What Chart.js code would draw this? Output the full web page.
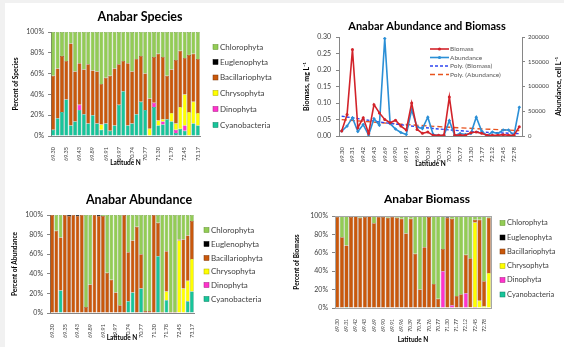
<!DOCTYPE html>
<html>
<head>
<meta charset="utf-8">
<script src="https://cdn.jsdelivr.net/npm/chart.js@4.4.1/dist/chart.umd.min.js"></script>
<style>
  html, body { margin: 0; padding: 0; background: #f1f1f1; }
  #wrap { position: relative; width: 564px; height: 347px; overflow: hidden; }
  #sheet { position: absolute; left: 5px; top: 3px; right: 0; bottom: 0; background: #fff; }
  canvas { position: absolute; }
</style>
</head>
<body>
<div id="wrap">
  <div id="sheet"></div>
  <canvas id="species" width="282" height="175" style="left:0;top:0"></canvas>
  <canvas id="mass" width="282" height="175" style="left:282px;top:0"></canvas>
  <canvas id="abund" width="282" height="172" style="left:0;top:175px"></canvas>
  <canvas id="biomass" width="282" height="172" style="left:282px;top:175px"></canvas>
</div>
<script>
// sampling stations, south to north
const latitude = ['69.30','69.30','69.31','69.35','69.42','69.42','69.43','69.43','69.69','69.89',
  '69.90','69.90','69.91','69.91','69.96','69.97','70.39','70.39','70.74','70.74',
  '70.76','70.77','70.77','70.77','71.30','71.30','71.77','71.78','72.12','72.12',
  '72.45','72.45','72.78','73.17'];

// stacking order, bottom to top
const groups = ['Cyanobacteria', 'Dinophyta', 'Chrysophyta', 'Bacillariophyta', 'Euglenophyta', 'Chlorophyta'];

// percent of species
const speciesCyano   = [6,17,23,35,10,14,25,21,12,20, 12,6,12,5,10,30,43,10,12,21, 33,25,0,28,10,11,16,14,3,7, 5,0,12,10];
const speciesDino    = [0,0,0,0,0,0,5,0,0,0, 0,0,0,0,0,0,0,0,0,0, 0,0,0,4,0,3,0,0,3,0, 5,0,0,0];
const speciesChryso  = [0,0,0,0,0,0,0,0,0,0, 0,5,0,0,0,0,0,0,0,0, 0,0,7,0,5,2,0,8,6,21, 30,23,21,12];
const speciesBacil   = [52,48,54,37,79,48,40,43,57,43, 50,39,44,53,55,39,29,60,50,53, 44,35,29,44,64,60,42,42,61,54, 35,55,46,52];
const speciesEugleno = [0,0,0,0,0,0,0,0,0,0, 0,0,0,0,0,0,0,0,0,0, 0,0,0,0,0,0,0,0,0,0, 0,0,0,0];
const speciesChloro  = [42,35,23,28,11,38,30,36,31,37, 38,50,44,42,35,31,28,30,38,26, 23,40,64,24,21,24,42,36,27,18, 25,22,21,26];

// percent of abundance
const abundCyano   = [0,0,23,0,0,0,0,0,0,0, 0,0,0,0,0,0,0,0,12,21, 0,25,0,0,0,58,0,13,0,0, 0,0,12,22];
const abundDino    = [0,0,0,0,0,0,0,0,0,0, 0,0,0,0,0,0,0,0,0,0, 0,0,0,0,0,0,0,0,0,0, 0,0,0,0];
const abundChryso  = [0,0,0,0,0,0,0,0,0,0, 0,0,0,0,0,0,0,0,0,0, 0,0,0,0,0,0,0,9,0,0, 74,25,21,33];
const abundBacil   = [100,84,54,100,99,100,99,100,6,29, 100,99,99,41,34,21,8,100,50,53, 88,35,2,2,100,34,1,41,1,1, 1,50,46,39];
const abundEugleno = [0,0,0,0,1,0,1,0,0,0, 0,1,0,0,0,0,0,0,0,0, 0,0,0,0,0,0,0,0,0,0, 0,0,0,0];
const abundChloro  = [0,16,23,0,0,0,0,0,94,71, 0,0,1,59,66,79,92,0,38,26, 12,40,98,98,0,8,99,37,99,99, 25,25,21,6];

// percent of biomass
const massCyano   = [0,0,1,0,0,0,0,0,0,0, 0,0,0,0,0,0,0,0,0,0, 0,0,1,0,0,0,0,0,0,0, 0,0,0,0];
const massDino    = [0,0,0,0,0,0,0,0,0,0, 0,0,0,0,0,0,0,0,0,0, 0,0,0,40,0,3,0,0,16,0, 1,0,0,0];
const massChryso  = [0,0,0,0,0,0,0,0,0,0, 0,0,0,0,0,0,0,0,0,0, 0,0,0,0,0,0,0,0,0,1, 92,8,2,38];
const massBacil   = [99,77,67,99,100,98,99,100,92,99, 99,98,99,98,97,81,97,59,20,66, 99,26,9,24,98,94,13,15,42,53, 3,88,27,60];
const massEugleno = [0,0,0,1,0,0,1,0,0,0, 1,0,0,0,0,0,0,0,0,0, 0,0,0,0,1,0,0,0,0,0, 0,0,0,0];
const massChloro  = [1,23,32,0,0,2,0,0,8,1, 0,2,1,2,3,19,3,41,80,34, 1,74,90,36,1,3,87,85,42,46, 4,4,71,2];

// biomass mg/L and abundance cell/L
const biomass   = [0.015,0.065,0.262,0.025,0.055,0.008,0.095,0.070,0.050,0.040, 0.048,0.030,0.018,0.100,0.020,0.008,0.012,0.002,0.002,0.003,
                   0.118,0.002,0.003,0.002,0.010,0.012,0.008,0.002,0.002,0.002, 0.004,0.002,0.002,0.028];
const abundance = [10000,20000,37000,9000,23000,2000,35000,22000,197000,25000, 14000,7000,3000,53000,18000,15000,38000,3000,1000,1000,
                   31000,1000,5000,3000,5000,38000,10000,1000,8000,5000, 12000,12000,1000,58000];

const trendAt        = [0, 11, 22, 33];
const trendBiomass   = [0.060, 0.034, 0.016, 0.007];
const trendAbundance = [33000, 24000, 16500, 11000];

const groupColors  = ['#17c59a', '#ff33cc', '#ffff00', '#c9580c', '#000000', '#93cc55'];
const groupBorders = ['#0e7e62', '#a0207f', '#a8a800', '#7e3406', '#000000', '#5e8f2c'];

Chart.defaults.font.family = 'Lato';
Chart.defaults.animation = false;

// titles, legends, plot frame and the right axis title, drawn at fixed spots
const decor = {
  id: 'decor',
  afterDraw(chart, args, o) {
    if (!o.title) return;
    const ctx = chart.ctx;
    const sets = chart.data.datasets;
    const area = chart.chartArea;
    ctx.save();
    if (o.frame) {
      ctx.strokeStyle = '#a6a6a6';
      ctx.lineWidth = 1;
      ctx.strokeRect(Math.round(area.left) + 0.5, Math.round(area.top) + 0.5,
        Math.round(area.right - area.left), Math.round(area.bottom - area.top));
    }
    ctx.textBaseline = 'middle';
    ctx.textAlign = 'center';
    ctx.fillStyle = '#000';
    ctx.font = 'bold ' + o.titleSize + 'px Lato';
    ctx.fillText(o.title, o.titleX, o.titleY);

    ctx.textAlign = 'left';
    ctx.font = o.legendSize + 'px Lato';
    o.order.forEach((k, j) => {
      const ds = sets[k];
      const y = o.legendY[j];
      if (o.kind === 'box') {
        ctx.fillStyle = ds.backgroundColor;
        ctx.fillRect(o.legendX, y - 2.5, 5, 5);
        ctx.strokeStyle = ds.borderColor;
        ctx.lineWidth = 0.5;
        ctx.strokeRect(o.legendX, y - 2.5, 5, 5);
      } else {
        ctx.strokeStyle = ds.borderColor;
        ctx.lineWidth = ds.borderWidth;
        ctx.setLineDash(ds.borderDash || []);
        ctx.beginPath();
        ctx.moveTo(o.legendX, y);
        ctx.lineTo(o.legendX + 19, y);
        ctx.stroke();
        ctx.setLineDash([]);
        if (ds.pointRadius) {
          ctx.fillStyle = ds.borderColor;
          ctx.beginPath();
          ctx.arc(o.legendX + 9.5, y, 1.6, 0, Math.PI * 2);
          ctx.fill();
        }
      }
      ctx.fillStyle = o.legendColor || '#404040';
      ctx.fillText(ds.label, o.textX, y);
    });

    if (o.sideTitle) {
      ctx.translate(o.sideX, o.sideY);
      ctx.rotate(-Math.PI / 2);
      ctx.textAlign = 'center';
      ctx.fillStyle = '#000';
      ctx.font = 'bold 7px Lato';
      ctx.fillText(o.sideTitle, 0, 0);
    }
    ctx.restore();
  }
};
Chart.register(decor);

function stackedChart(id, values, c) {
  return new Chart(document.getElementById(id), {
    type: 'bar',
    data: {
      labels: latitude,
      datasets: groups.map((g, k) => ({
        label: g,
        data: values[k],
        backgroundColor: groupColors[k],
        borderColor: groupBorders[k],
        borderWidth: 0.5,
        barPercentage: 1,
        categoryPercentage: 0.88
      }))
    },
    options: {
      responsive: false,
      layout: { padding: { top: c.top, right: c.w - c.right, left: 0, bottom: 0 } },
      plugins: {
        legend: { display: false },
        tooltip: { enabled: false },
        decor: {
          title: c.title, titleX: c.titleX, titleY: c.titleY, titleSize: c.titleSize, frame: c.frame,
          kind: 'box', order: [5, 4, 3, 2, 1, 0],
          legendX: c.legendX, textX: c.legendX + 7, legendY: c.legendY, legendSize: c.legendSize
        }
      },
      scales: {
        x: {
          stacked: true,
          grid: { display: false },
          border: { color: '#868686' },
          afterFit: s => { s.height = c.h - c.bottom; },
          ticks: {
            autoSkip: false, minRotation: 90, maxRotation: 90, padding: 3,
            font: { size: c.xSize }, color: '#404040',
            callback: (v, i) => i % c.every === 0 ? latitude[i] : ''
          },
          title: { display: true, text: 'Latitude N', color: '#000',
                   font: { size: 6.5, weight: 'bold' }, padding: { top: 0, bottom: c.xTitlePad } }
        },
        y: {
          stacked: true, min: 0, max: 100,
          afterFit: s => { s.width = c.left; },
          grid: { drawOnChartArea: false, tickLength: 3, color: '#868686' },
          border: { color: '#868686' },
          ticks: { stepSize: c.step, padding: 4, font: { size: 7 }, color: '#404040', callback: v => v + '%' },
          title: { display: true, text: c.yTitle, color: '#000',
                   font: { size: 6.5, weight: 'bold' }, padding: { top: c.yTitlePad, bottom: 0 } }
        }
      }
    }
  });
}

stackedChart('species',
  [speciesCyano, speciesDino, speciesChryso, speciesBacil, speciesEugleno, speciesChloro],
  { w: 282, h: 175, left: 51, top: 32, right: 200, bottom: 136, step: 10, every: 3, xSize: 5.5,
    title: 'Anabar Species', titleX: 140, titleY: 17, titleSize: 12.5,
    legendX: 213, legendY: [47, 62, 77.5, 93, 109, 125], legendSize: 8,
    yTitle: 'Percent of Species', yTitlePad: 12, xTitlePad: 8 });

stackedChart('abund',
  [abundCyano, abundDino, abundChryso, abundBacil, abundEugleno, abundChloro],
  { w: 282, h: 172, left: 50, top: 40, right: 194, bottom: 138, step: 10, every: 3, xSize: 5.5,
    title: 'Anabar Abundance', titleX: 139, titleY: 25, titleSize: 12.5,
    legendX: 204, legendY: [55, 69, 83, 96.5, 110, 124], legendSize: 8,
    yTitle: 'Percent of Abundance', yTitlePad: 11, xTitlePad: 5 });

stackedChart('biomass',
  [massCyano, massDino, massChryso, massBacil, massEugleno, massChloro],
  { w: 282, h: 172, left: 53, top: 41, right: 209, bottom: 133, step: 20, every: 2, xSize: 5,
    title: 'Anabar Biomass', titleX: 145, titleY: 24, titleSize: 12, frame: true,
    legendX: 218, legendY: [48, 62.5, 76.5, 91, 105, 119.5], legendSize: 7.5,
    yTitle: 'Percent of Biomass', yTitlePad: 11, xTitlePad: 3 });

// trend series with gaps between the read stations
const trendB = latitude.map(() => null);
const trendA = latitude.map(() => null);
trendAt.forEach((k, j) => { trendB[k] = trendBiomass[j]; trendA[k] = trendAbundance[j]; });

new Chart(document.getElementById('mass'), {
  type: 'line',
  data: {
    labels: latitude,
    datasets: [
      { label: 'Biomass', data: biomass, yAxisID: 'y', borderColor: '#d2232a', backgroundColor: '#d2232a',
        borderWidth: 1.6, pointRadius: 1.5, pointBorderWidth: 0, tension: 0 },
      { label: 'Abundance', data: abundance, yAxisID: 'y1', borderColor: '#2b8fd6', backgroundColor: '#2b8fd6',
        borderWidth: 1.6, pointRadius: 1.8, pointStyle: 'rectRot', pointBorderWidth: 0, tension: 0 },
      { label: 'Poly. (Biomass)', data: trendB, yAxisID: 'y', borderColor: '#2f45f0',
        borderDash: [3, 2], borderWidth: 1.4, pointRadius: 0, spanGaps: true, tension: 0.4 },
      { label: 'Poly. (Abundance)', data: trendA, yAxisID: 'y1', borderColor: '#e8531e',
        borderDash: [5, 3], borderWidth: 1.4, pointRadius: 0, spanGaps: true, tension: 0.4 }
    ]
  },
  options: {
    responsive: false,
    layout: { padding: { top: 37, right: 0, left: 0, bottom: 0 } },
    plugins: {
      legend: { display: false },
      tooltip: { enabled: false },
      decor: {
        title: 'Anabar Abundance and Biomass', titleX: 145, titleY: 26.7, titleSize: 11,
        kind: 'line', order: [0, 1, 2, 3],
        legendX: 148, textX: 168, legendY: [49, 57.5, 66, 74.5], legendSize: 6.5, legendColor: '#595959',
        sideTitle: 'Abundance, cell L⁻¹', sideX: 277, sideY: 86.5
      }
    },
    scales: {
      x: {
        offset: true,
        grid: { display: false },
        border: { color: '#868686' },
        afterFit: s => { s.height = 175 - 136; },
        ticks: {
          autoSkip: false, minRotation: 90, maxRotation: 90, padding: 3,
          font: { size: 6 }, color: '#404040',
          callback: (v, i) => i % 2 === 0 ? latitude[i] : ''
        },
        title: { display: true, text: 'Latitude N', color: '#000',
                 font: { size: 6.5, weight: 'bold' }, padding: { top: 0, bottom: 7 } }
      },
      y: {
        min: 0, max: 0.3,
        afterFit: s => { s.width = 57; },
        grid: { drawOnChartArea: false, tickLength: 3, color: '#868686' },
        border: { color: '#868686' },
        ticks: { stepSize: 0.05, padding: 5, font: { size: 7 }, color: '#404040', callback: v => v.toFixed(2) },
        title: { display: true, text: 'Biomass, mg L⁻¹', color: '#000',
                 font: { size: 7, weight: 'bold' }, padding: { top: 21, bottom: 0 } }
      },
      y1: {
        position: 'right', min: 0, max: 200000,
        afterFit: s => { s.width = 282 - 240; },
        grid: { drawOnChartArea: false, tickLength: 3, color: '#868686' },
        border: { color: '#868686' },
        ticks: { stepSize: 50000, padding: 3, font: { size: 6 }, color: '#404040', callback: v => String(v) }
      }
    }
  }
});
</script>
</body>
</html>
